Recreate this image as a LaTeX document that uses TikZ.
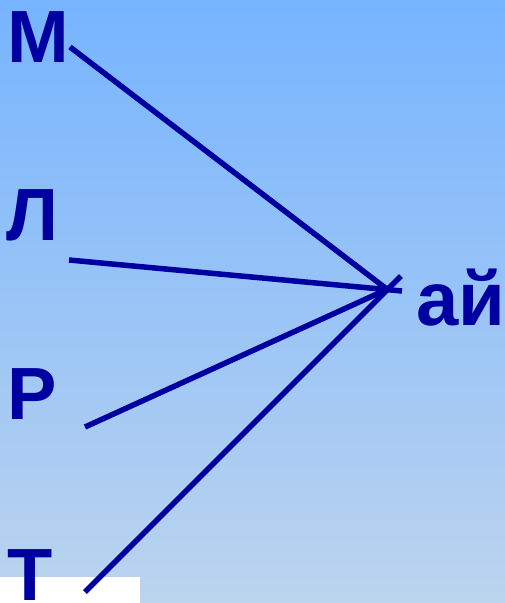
\documentclass[tikz,border=0pt]{standalone}
\usepackage{fontspec}
\setmainfont{Liberation Sans}
\begin{document}
\begin{tikzpicture}[x=1pt,y=-1pt,
  letter/.style={inner sep=0pt,outer sep=0pt,anchor=base west,text=linkblue,font=\fontsize{74}{74}\selectfont\bfseries},
  link/.style={draw=linkblue,line width=5.5pt}]
\definecolor{linkblue}{RGB}{0,0,160}
\definecolor{bgtop}{RGB}{118,180,255}
\definecolor{bgbot}{RGB}{188,212,238}
\shade[top color=bgtop,bottom color=bgbot] (0,0) rectangle (505,603);
\useasboundingbox (0,0) rectangle (505,603);
\fill[white] (0,577) rectangle (140,603);
\node[letter] (m) at (8,62) {М};
\node[letter] (l) at (6,240) {Л};
\node[letter] (r) at (8,419) {Р};
\node[letter] (t) at (7,600) {Т};
\node[letter,font=\fontsize{76}{76}\selectfont\bfseries] (ay) at (416,325) {ай};
\coordinate (m1) at (70,47);
\coordinate (l1) at (69,260);
\coordinate (r1) at (85,427);
\coordinate (t1) at (85,592);
\coordinate (mx) at (388,290);
\coordinate (lx) at (402,291);
\coordinate (rx) at (390,288);
\coordinate (tx) at (401,276);
\draw[link] (m1) -- (mx);
\draw[link] (l1) -- (lx);
\draw[link] (r1) -- (rx);
\draw[link] (t1) -- (tx);
\end{tikzpicture}
\end{document}
